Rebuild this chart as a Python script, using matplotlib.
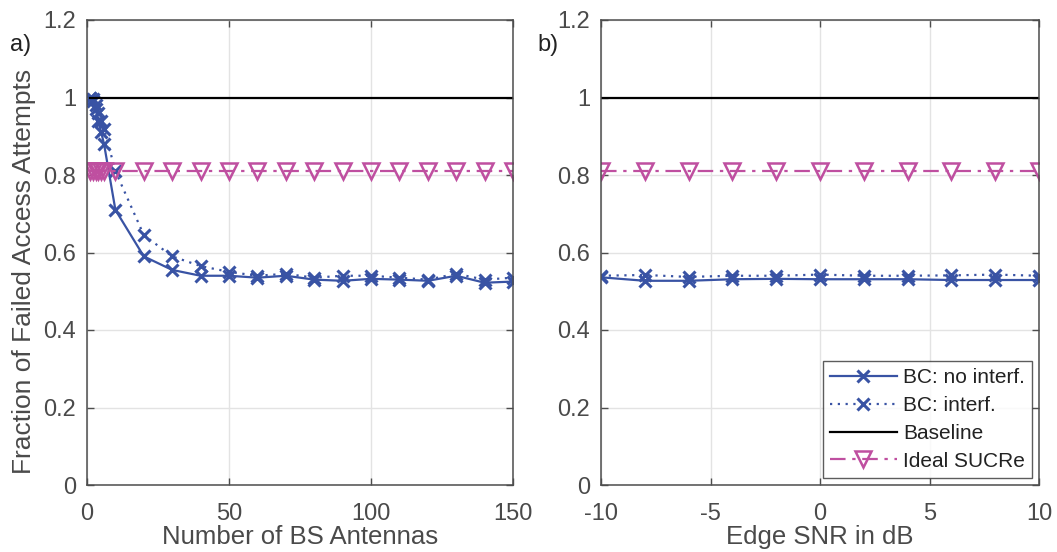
import matplotlib
matplotlib.use("Agg")
import matplotlib.pyplot as plt

plt.rcParams['font.family'] = ['Liberation Sans', 'DejaVu Sans']

# left panel: number of BS antennas
antennas = [1, 2, 3, 4, 5, 6, 10, 20, 30, 40, 50, 60, 70, 80, 90, 100, 110, 120, 130, 140, 150]
bc_noint_a = [1.0, 0.99, 0.97, 0.94, 0.91, 0.88, 0.71, 0.59, 0.555, 0.54, 0.54, 0.535,
              0.54, 0.53, 0.527, 0.532, 0.53, 0.527, 0.54, 0.522, 0.525]
bc_int_a = [1.0, 0.995, 0.98, 0.96, 0.94, 0.92, 0.81, 0.645, 0.59, 0.565, 0.55, 0.54,
            0.545, 0.535, 0.54, 0.54, 0.535, 0.53, 0.545, 0.53, 0.535]
baseline_a = [1.0] * len(antennas)
sucre_a = [0.81] * len(antennas)

# right panel: edge SNR
snr = [-10, -8, -6, -4, -2, 0, 2, 4, 6, 8, 10]
bc_noint_b = [0.536, 0.527, 0.527, 0.531, 0.532, 0.531, 0.531, 0.531, 0.529, 0.529, 0.529]
bc_int_b = [0.54, 0.542, 0.537, 0.54, 0.54, 0.543, 0.54, 0.54, 0.541, 0.543, 0.54]
baseline_b = [1.0] * len(snr)
sucre_b = [0.81] * len(snr)

yticks = [0, 0.2, 0.4, 0.6, 0.8, 1.0, 1.2]
ytick_labels = ['0', '0.2', '0.4', '0.6', '0.8', '1', '1.2']
xticks_a = [0, 50, 100, 150]
xticks_b = [-10, -5, 0, 5, 10]
xtick_labels_b = ['-10', '-5', '0', '5', '10']

blue = '#3953a4'
pink = '#bf4fa0'
txt = '#4a4a4a'
axcol = '#4d4d4d'

fig = plt.figure(figsize=(10.57, 5.52), dpi=100)
ax1 = fig.add_axes([87/1057, (552-485)/552, 426/1057, 465/552])
ax2 = fig.add_axes([601/1057, (552-485)/552, 438/1057, 465/552])


def draw(ax, x, noint, inter, base, sucre):
    ax.plot(x, noint, color=blue, lw=1.6, marker='x', ms=9, mew=2.2, label='BC: no interf.')
    ax.plot(x, inter, color=blue, lw=1.6, ls=(0, (1, 2.5)), marker='x', ms=9, mew=2.2,
            label='BC: interf.')
    ax.plot(x, base, color='black', lw=1.6, label='Baseline')
    ax.plot(x, sucre, color=pink, lw=1.6, ls=(0, (7, 3, 1.5, 3)), marker='v', ms=12,
            mfc='none', mew=1.8, label='Ideal SUCRe')
    ax.set_ylim(0, 1.2)
    ax.set_yticks(yticks)
    ax.set_yticklabels(ytick_labels)
    ax.grid(True, color='#e3e3e3', lw=1)
    ax.set_axisbelow(True)
    ax.tick_params(direction='in', length=5, width=1, colors=axcol, labelcolor=txt,
                   labelsize=17, top=True, right=True)
    ax.tick_params(axis='x', pad=13)
    ax.tick_params(axis='y', pad=8)
    for s in ax.spines.values():
        s.set_color(axcol)
        s.set_linewidth(1.1)


draw(ax1, antennas, bc_noint_a, bc_int_a, baseline_a, sucre_a)
ax1.set_xlim(0, 150)
ax1.set_xticks(xticks_a)
ax1.set_xlabel('Number of BS Antennas', fontsize=18.5, color=txt, labelpad=0)
ax1.set_ylabel('Fraction of Failed Access Attempts', fontsize=19, color=txt)
ax1.yaxis.set_label_coords(-0.12, 0.46)

draw(ax2, snr, bc_noint_b, bc_int_b, baseline_b, sucre_b)
ax2.set_xlim(-10, 10)
ax2.set_xticks(xticks_b)
ax2.set_xticklabels(xtick_labels_b)
ax2.set_xlabel('Edge SNR in dB', fontsize=18.5, color=txt, labelpad=0)

leg = ax2.legend(loc='lower right', fontsize=15, frameon=True, fancybox=False,
                 edgecolor='#333333', handlelength=3.2, borderpad=0.35,
                 labelspacing=0.42, handletextpad=0.3, borderaxespad=0,
                 bbox_to_anchor=(1 - 7/438, 7/465))
leg.get_frame().set_linewidth(1.0)
for t in leg.get_texts():
    t.set_color('#222222')

fig.text(10/1057, 1 - 45/552, 'a)', fontsize=17, color='#222222', va='center')
fig.text(537/1057, 1 - 45/552, 'b)', fontsize=17, color='#222222', va='center')

fig.savefig('out.png', dpi=100)
